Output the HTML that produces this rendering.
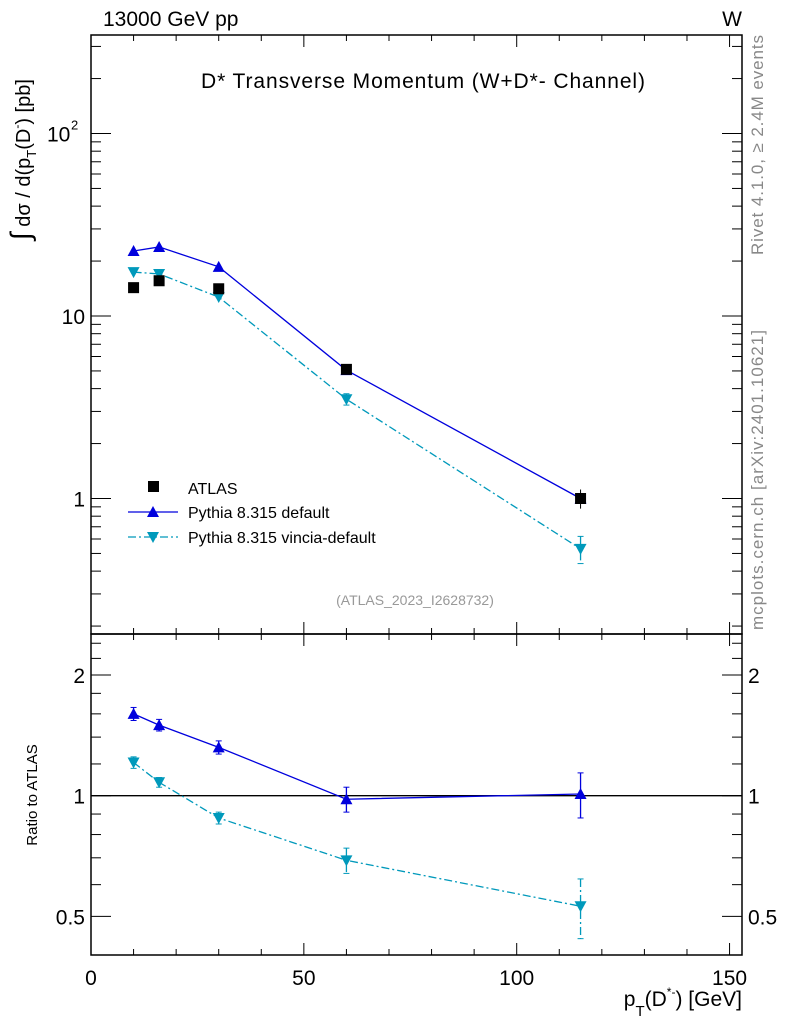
<!DOCTYPE html>
<html><head><meta charset="utf-8"><style>
body{margin:0;background:#fff;width:786px;height:1024px;overflow:hidden}
svg text{font-family:"Liberation Sans",sans-serif}
</style></head><body>
<svg id="c" width="786" height="1024">
<text x="742" y="1006" font-size="21" text-anchor="end">p<tspan font-size="15" dy="10">T</tspan><tspan dy="-10">(D</tspan><tspan font-size="12" dy="-10">*-</tspan><tspan dy="10">) [GeV]</tspan></text>
<text transform="translate(30,240) rotate(-90)" font-size="20"><tspan font-size="28">∫</tspan> dσ / d(p<tspan font-size="13" dy="6">T</tspan><tspan dy="-6">(D</tspan><tspan font-size="12" dy="-9">-</tspan><tspan dy="9">) [pb]</tspan></text>
</svg>
<script>
const xVals=[10,16,30,60,115];
const atlas=[14.3,15.6,14.1,5.1,1.0];
const atlasErr=[0.8,0.8,0.8,0.3,0.12];
const pyDef=[22.7,23.9,18.6,5.05,1.0];
const pyVin=[17.4,17.0,12.7,3.5,0.53];
const ratioDef=[1.6,1.5,1.32,0.98,1.01];
const ratioDefErr=[0.06,0.05,0.05,0.07,0.13];
const ratioVin=[1.21,1.08,0.88,0.69,0.53];
const ratioVinErr=[0.04,0.03,0.03,0.05,0.09];
const xTicks=[0,50,100,150];
const NS='http://www.w3.org/2000/svg';
const svg=document.getElementById('c');
const L=91,R=742,T=35,MB=634,RB=955;
const X=v=>L+v*(516.7-L)/100;
const Y=v=>316-Math.log10(v/10)*182.5;
const YR=v=>795.7-Math.log2(v)*120.7;
function el(t,a,p){const e=document.createElementNS(NS,t);for(const k in a)e.setAttribute(k,a[k]);(p||svg).appendChild(e);return e;}
function txt(x,y,s,a,p){const e=el('text',Object.assign({x:x,y:y},a||{}),p);e.textContent=s;return e;}
let f=el('rect',{x:L,y:T,width:R-L,height:MB-T,fill:'none',stroke:'#000','stroke-width':1.5});

f=el('rect',{x:L,y:MB,width:R-L,height:RB-MB,fill:'none',stroke:'#000','stroke-width':1.5});

for(let v=0;v<=150;v+=10){const big=v%50==0,len=big?12:6;const x=X(v);
 for(const [y0,d] of [[T,1],[MB,-1],[MB,1],[RB,-1]]) el('line',{x1:x,x2:x,y1:y0,y2:y0+d*len,stroke:'#000'});}
xTicks.forEach(v=>{const t=txt(X(v),985,String(v),{'font-size':21,'text-anchor':'middle'});});
for(let d=-1;d<=2;d++)for(let m=1;m<10;m++){const v=m*Math.pow(10,d);const y=Y(v);if(y<T||y>MB)continue;const len=m==1?20:10;
 el('line',{x1:L,x2:L+len,y1:y,y2:y,stroke:'#000'});el('line',{x1:R,x2:R-len,y1:y,y2:y,stroke:'#000'});}
[[1,'1'],[10,'10']].forEach(([v,s])=>{const t=txt(L-6,Y(v)+8,s,{'font-size':21,'text-anchor':'end'});});
let t=txt(L-44,Y(100)+8,'10',{'font-size':21,'text-anchor':'start'});
txt(L-20,Y(100)-4,'2',{'font-size':13});
[0.4,0.5,0.6,0.7,0.8,0.9,1,1.2,1.4,1.6,1.8,2,2.2,2.4].forEach(v=>{const y=YR(v);if(y<MB||y>RB)return;const big=(v==0.5||v==1||v==2),len=big?20:10;
 el('line',{x1:L,x2:L+len,y1:y,y2:y,stroke:'#000'});el('line',{x1:R,x2:R-len,y1:y,y2:y,stroke:'#000'});});
[[0.5,'0.5'],[1,'1'],[2,'2']].forEach(([v,s])=>{let a=txt(L-6,YR(v)+8,s,{'font-size':21,'text-anchor':'end'});
 a=txt(R+6,YR(v)+8,s,{'font-size':21});});
let rl=el('line',{x1:L,x2:R,y1:YR(1),y2:YR(1),stroke:'#000','stroke-width':1.3});
function tri(x,y,up,c,name){const p=up?`${x-6},${y+5} ${x+6},${y+5} ${x},${y-6}`:`${x-6},${y-5} ${x+6},${y-5} ${x},${y+6}`;const e=el('polygon',{points:p,fill:c});}
function series(vals,yf,c,dash,up,name,errs){
 const pts=vals.map((v,i)=>X(xVals[i])+','+yf(v)).join(' ');
 const pl=el('polyline',{points:pts,fill:'none',stroke:c,'stroke-width':1.3,'stroke-dasharray':dash||'none'});
 vals.forEach((v,i)=>{const x=X(xVals[i]);if(errs){const y1=yf(v+errs[i]),y2=yf(v-errs[i]);
  el('line',{x1:x,x2:x,y1:y1,y2:y2,stroke:c,'stroke-width':1.3,'stroke-dasharray':dash||'none'});
  el('line',{x1:x-3,x2:x+3,y1:y1,y2:y1,stroke:c});el('line',{x1:x-3,x2:x+3,y1:y2,y2:y2,stroke:c});}
  tri(x,yf(v),up,c,name+'-point');});
}
series(pyDef,Y,'#0000dd','',true,'pythia-default');
series(pyVin,Y,'#0099bb','8 3 2 3',false,'pythia-vincia',[0,0,0,0.25,0.09]);
atlas.forEach((v,i)=>{const x=X(xVals[i]);el('line',{x1:x,x2:x,y1:Y(v+atlasErr[i]),y2:Y(v-atlasErr[i]),stroke:'#000'});
 const r=el('rect',{x:x-5.5,y:Y(v)-5.5,width:11,height:11,fill:'#000'});});
series(ratioDef,YR,'#0000dd','',true,'ratio-pythia-default',ratioDefErr);
series(ratioVin,YR,'#0099bb','8 3 2 3',false,'ratio-pythia-vincia',ratioVinErr);
const lg=el('g',{});
el('rect',{x:148,y:481,width:11,height:11,fill:'#000'},lg);txt(188,494,'ATLAS',{'font-size':16},lg);
el('line',{x1:128,x2:178,y1:512,y2:512,stroke:'#0000dd','stroke-width':1.3},lg);el('polygon',{points:'147,517 159,517 153,506',fill:'#0000dd'},lg);txt(188,518,'Pythia 8.315 default',{'font-size':16},lg);
el('line',{x1:128,x2:178,y1:537,y2:537,stroke:'#0099bb','stroke-width':1.3,'stroke-dasharray':'8 3 2 3'},lg);el('polygon',{points:'147,532 159,532 153,543',fill:'#0099bb'},lg);txt(188,543,'Pythia 8.315 vincia-default',{'font-size':16},lg);
t=txt(103,26,'13000 GeV pp',{'font-size':21});
t=txt(742,26,'W',{'font-size':21,'text-anchor':'end'});
t=txt(423,88,'D* Transverse Momentum (W+D*- Channel)',{'font-size':21,'text-anchor':'middle','textLength':444});
t=txt(415,605,'(ATLAS_2023_I2628732)',{'font-size':14,fill:'#999','text-anchor':'middle'});
t=txt(0,0,'Ratio to ATLAS',{'font-size':15,'text-anchor':'middle',transform:'translate(37,795) rotate(-90)'});
t=txt(0,0,'Rivet 4.1.0, ≥ 2.4M events',{'font-size':17,fill:'#888',transform:'translate(763,255) rotate(-90)','textLength':220});
t=txt(0,0,'mcplots.cern.ch [arXiv:2401.10621]',{'font-size':17,fill:'#888',transform:'translate(763,630) rotate(-90)','textLength':300});
</script>
</body></html>
